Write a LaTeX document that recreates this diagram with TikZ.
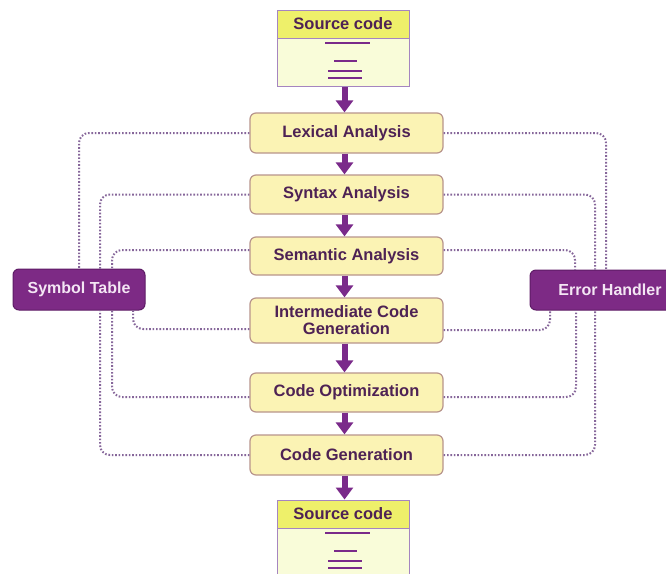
\documentclass[tikz,border=0pt]{standalone}
\usepackage{fontspec}
\setmainfont{Liberation Sans}
\usetikzlibrary{arrows.meta,calc}
\definecolor{stagefill}{HTML}{FBF3B4}
\definecolor{stageborder}{HTML}{B8958C}
\definecolor{txtpurple}{HTML}{4E2254}
\definecolor{boxpurple}{HTML}{7D2A85}
\definecolor{boxborder}{HTML}{5E1C66}
\definecolor{boxtext}{HTML}{F4E6F4}
\definecolor{headfill}{HTML}{EEF06A}
\definecolor{bodyfill}{HTML}{F9FCD9}
\definecolor{srcborder}{HTML}{A585C0}
\definecolor{arrowpurple}{HTML}{7A2A8A}
\definecolor{dotcol}{HTML}{86669A}
\tikzset{
  stage/.style={draw=stageborder, fill=stagefill, line width=1.2pt, rounded corners=6pt,
    minimum width=193pt, inner sep=0pt, align=center, text=txtpurple,
    font=\bfseries\fontsize{16.5}{17}\selectfont},
  sidebox/.style={draw=boxborder, fill=boxpurple, line width=1pt, rounded corners=6pt,
    inner sep=0pt, text=boxtext, font=\bfseries\fontsize{16}{17}\selectfont},
  srchead/.style={draw=srcborder, fill=headfill, line width=1pt, minimum width=132pt,
    minimum height=28pt, inner sep=0pt, text=txtpurple, font=\bfseries\fontsize{16.5}{17}\selectfont},
  srcbody/.style={draw=srcborder, fill=bodyfill, line width=1pt, minimum width=132pt,
    minimum height=48pt, inner sep=0pt},
  codeline/.style={draw=arrowpurple, line width=2pt},
  fat/.style={draw=arrowpurple, line width=6pt, -{Triangle[width=17pt,length=12pt]}},
  conn/.style={draw=dotcol, line width=2pt, dash pattern=on 1.6pt off 1.8pt, rounded corners=10pt},
}
\begin{document}
\begin{tikzpicture}[x=1pt,y=-1pt]
\clip (0,0) rectangle (666,573);
\useasboundingbox (0,0) rectangle (666,573);
\fill[white] (0,0) rectangle (666,573);

% source code boxes
\node[srcbody] (src1b) at (343,62) {};
\node[srchead] (src1h) at (343,24) {Source code};
\draw[codeline] (325,43) -- (370,43);
\draw[codeline] (334,61) -- (357,61);
\draw[codeline] (328,71) -- (362,71);
\draw[codeline] (328,78) -- (362,78);

\node[srcbody] (src2b) at (343,552) {};
\node[srchead] (src2h) at (343,514) {Source code};
\draw[codeline] (325,533) -- (370,533);
\draw[codeline] (334,551) -- (357,551);
\draw[codeline] (328,561) -- (362,561);
\draw[codeline] (328,568) -- (362,568);

% stages
\node[stage, minimum height=40pt] (lex) at (346.5,133) {Lexical Analysis};
\node[stage, minimum height=39pt] (syn) at (346.5,194.5) {Syntax Analysis};
\node[stage, minimum height=38pt] (sem) at (346.5,256) {Semantic Analysis};
\node[stage, minimum height=45pt] (inter) at (346.5,320.5) {Intermediate Code\\Generation};
\node[stage, minimum height=39pt] (opt) at (346.5,392.5) {Code Optimization};
\node[stage, minimum height=40pt] (gen) at (346.5,455) {Code Generation};

% side boxes
\node[sidebox, minimum width=132pt, minimum height=41pt] (sym) at (79,289.5) {Symbol Table};
\node[sidebox, minimum width=160pt, minimum height=40pt] (err) at (610,290) {Error Handler};

% dotted connectors, left
\draw[conn] (lex.west) -| (sym.north);
\draw[conn] (syn.west) -| ([xshift=21pt]sym.north);
\draw[conn] ($(sem.west)+(0,-6)$) -| ([xshift=33pt]sym.north);
\draw[conn] ($(inter.west)+(0,8.5)$) -| ([xshift=54pt]sym.south);
\draw[conn] ($(opt.west)+(0,4.5)$) -| ([xshift=33pt]sym.south);
\draw[conn] (gen.west) -| ([xshift=21pt]sym.south);

% dotted connectors, right
\draw[conn] (lex.east) -| ([xshift=-4pt]err.north);
\draw[conn] (syn.east) -| ([xshift=-15pt]err.north);
\draw[conn] ($(sem.east)+(0,-6)$) -| ([xshift=-35pt]err.north);
\draw[conn] ($(inter.east)+(0,9.5)$) -| ([xshift=-60pt]err.south);
\draw[conn] ($(opt.east)+(0,4.5)$) -| ([xshift=-34pt]err.south);
\draw[conn] (gen.east) -| ([xshift=-15pt]err.south);

% flow arrows
\draw[fat] ([xshift=-2pt]src1b.south -| lex.north) -- ([xshift=-2pt]lex.north);
\draw[fat] ([xshift=-2pt]lex.south) -- ([xshift=-2pt]syn.north);
\draw[fat] ([xshift=-2pt]syn.south) -- ([xshift=-2pt]sem.north);
\draw[fat] ([xshift=-2pt]sem.south) -- ([xshift=-2pt]inter.north);
\draw[fat] ([xshift=-2pt]inter.south) -- ([xshift=-2pt]opt.north);
\draw[fat] ([xshift=-2pt]opt.south) -- ([xshift=-2pt]gen.north);
\draw[fat] ([xshift=-2pt]gen.south) -- ([xshift=-2pt]gen.south |- src2h.north);
\end{tikzpicture}
\end{document}
